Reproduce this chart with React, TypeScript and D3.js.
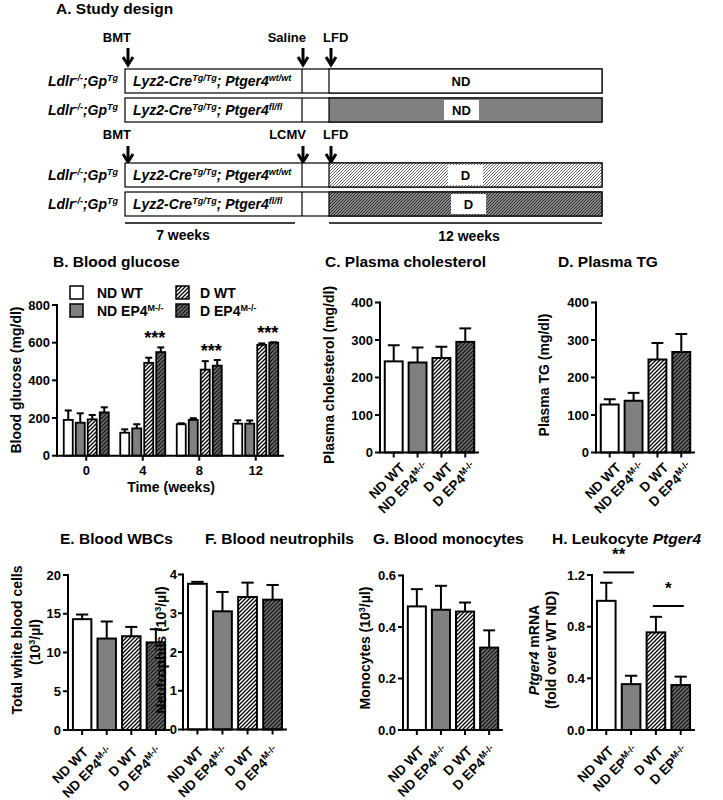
import React from "react";
import * as d3 from "d3";

const FONT = "'Liberation Sans', Arial, Helvetica, sans-serif";

// ---------- data ----------
const groupKeys = ["NDWT", "NDEP4", "DWT", "DEP4"];
const catMain = ["ND WT", "ND EP4", "D WT", "D EP4"];
const catMainH = ["ND WT", "ND EP", "D WT", "D EP"];
const catSup = ["", "M-/-", "", "M-/-"];
const weeks = ["0", "4", "8", "12"];

const glucoseNDWT = [190, 122, 167, 170];
const glucoseNDWTErr = [50, 18, 5, 18];
const glucoseNDEP4 = [175, 145, 190, 170];
const glucoseNDEP4Err = [50, 22, 9, 17];
const glucoseDWT = [193, 493, 457, 588];
const glucoseDWTErr = [23, 27, 45, 8];
const glucoseDEP4 = [230, 550, 478, 600];
const glucoseDEP4Err = [27, 25, 30, 2];
const glucoseSig = ["", "***", "***", "***"];
const glucoseTicks = [0, 200, 400, 600, 800];

const cholMean = [243, 240, 252, 295];
const cholSem = [43, 40, 30, 36];
const tgMean = [128, 138, 248, 268];
const tgSem = [14, 21, 44, 48];
const lipidTicks = [0, 100, 200, 300, 400];

const wbcMean = [14.3, 11.8, 12.1, 11.3];
const wbcSem = [0.6, 2.2, 1.2, 1.7];
const wbcTicks = [0, 5, 10, 15, 20];
const neutMean = [3.76, 3.05, 3.42, 3.35];
const neutSem = [0.05, 0.5, 0.37, 0.38];
const neutTicks = [0, 1, 2, 3, 4];
const monoMean = [0.48, 0.467, 0.46, 0.32];
const monoSem = [0.067, 0.093, 0.035, 0.067];
const monoTicks = [0, 0.2, 0.4, 0.6];
const ptgerMean = [1.0, 0.355, 0.756, 0.348];
const ptgerSem = [0.14, 0.065, 0.12, 0.065];
const ptgerTicks = [0, 0.4, 0.8, 1.2];
const ptgerSigPairs = [[0, 1], [2, 3]];
const ptgerSigLevel = [1.22, 0.96];
const ptgerSigText = ["**", "*"];

const fills = ["#ffffff", "#808080", "url(#hW)", "url(#hD)"];

// ---------- helpers ----------
function Sup({ children, size = 9, up = 5 }: any) {
  return (
    <tspan fontSize={size} dy={-up}>
      {children}
    </tspan>
  );
}

function CatLabel({ x, y, main, sup }: any) {
  return (
    <text
      transform={`translate(${x},${y}) rotate(-45)`}
      textAnchor="end"
      fontSize={13.5}
      fontWeight="bold"
    >
      {main}
      {sup ? <tspan fontSize={9} dy={-5}>{sup}</tspan> : null}
    </text>
  );
}

function YTitle({ x, y, children }: any) {
  return (
    <text
      transform={`translate(${x},${y}) rotate(-90)`}
      textAnchor="middle"
      dy="0.35em"
      fontSize={14}
      fontWeight="bold"
    >
      {children}
    </text>
  );
}

function YAxis({ ax, y, ticks, fmt, top, gap = 7 }: any) {
  return (
    <g>
      <line x1={ax} x2={ax} y1={y(0)} y2={y(top)} stroke="#000" strokeWidth={2} strokeLinecap="square" />
      {ticks.map((t: number) => (
        <g key={t}>
          <line x1={ax - 5} x2={ax} y1={y(t)} y2={y(t)} stroke="#000" strokeWidth={2} />
          <text x={ax - gap} y={y(t)} dy="0.36em" textAnchor="end" fontSize={13} fontWeight="bold">
            {fmt(t)}
          </text>
        </g>
      ))}
    </g>
  );
}

function BarPanel({ ax, ar, y0, y1, max, ticks, fmt, means, sems, mains, ldx, ldy, gap, children }: any) {
  const y = d3.scaleLinear().domain([0, max]).range([y0, y1]);
  const x = d3.scaleBand<string>().domain(groupKeys).range([ax, ar]).paddingInner(0.25).paddingOuter(0.2);
  const bw = x.bandwidth();
  return (
    <g>
      {means.map((m: number, i: number) => {
        const k = groupKeys[i];
        const bx = x(k)!;
        const cx = bx + bw / 2;
        const top = y(m);
        const et = y(m + sems[i]);
        const cw = bw * 0.33;
        return (
          <g key={k}>
            <line x1={cx} x2={cx} y1={top} y2={et} stroke="#000" strokeWidth={2} />
            <line x1={cx - cw} x2={cx + cw} y1={et} y2={et} stroke="#000" strokeWidth={2} />
            <rect x={bx} y={top} width={bw} height={y0 - top} fill={fills[i]} stroke="#000" strokeWidth={2} />
          </g>
        );
      })}
      <YAxis ax={ax} y={y} ticks={ticks} fmt={fmt} top={max} gap={gap} />
      <line x1={ax} x2={ar} y1={y0} y2={y0} stroke="#000" strokeWidth={2} />
      {groupKeys.map((k, i) => {
        const cx = x(k)! + bw / 2;
        return (
          <g key={k}>
            <line x1={cx} x2={cx} y1={y0} y2={y0 + 5} stroke="#000" strokeWidth={2} />
            <CatLabel x={cx + ldx} y={y0 + ldy} main={mains[i]} sup={catSup[i]} />
          </g>
        );
      })}
      {children ? children(x, y) : null}
    </g>
  );
}

function Arrow({ x, y1, y2 }: any) {
  return (
    <g stroke="#000" strokeWidth={3} fill="none">
      <line x1={x} x2={x} y1={y1} y2={y2 - 1} />
      <polyline points={`${x - 5},${y2 - 8} ${x},${y2} ${x + 5},${y2 - 8}`} />
    </g>
  );
}

function StudyRow({ top, fill, sup, diet, dietBox }: any) {
  const h = 24;
  return (
    <g>
      <text x={118} y={top + 17} textAnchor="end" fontSize={14} fontWeight="bold" fontStyle="italic">
        Ldlr<Sup>-/-</Sup>
        <tspan dy={5}>;Gp</tspan>
        <Sup>Tg</Sup>
      </text>
      <rect x={125} y={top} width={477} height={h} fill="#fff" stroke="#000" strokeWidth={1.2} />
      <rect x={329} y={top} width={273} height={h} fill={fill} stroke="#000" strokeWidth={1.2} />
      <line x1={302} x2={302} y1={top} y2={top + h} stroke="#000" strokeWidth={1.2} />
      <text x={133} y={top + 17} fontSize={14} fontWeight="bold" fontStyle="italic">
        Lyz2-Cre<Sup>Tg/Tg</Sup>
        <tspan dy={5}>; Ptger4</tspan>
        <Sup>{sup}</Sup>
      </text>
      {dietBox ? <rect x={dietBox[0]} y={top + 2} width={35} height={h - 4} fill="#fff" /> : null}
      <text x={dietBox ? dietBox[0] + 17.5 : 461} y={top + 17} textAnchor="middle" fontSize={13} fontWeight="bold">
        {diet}
      </text>
    </g>
  );
}

export default function App() {
  // Panel B scales
  const bY = d3.scaleLinear().domain([0, 800]).range([455.7, 305]);
  const bX = d3.scaleBand<string>().domain(weeks).range([58, 284]);
  const bInner = d3.scaleBand<string>().domain(groupKeys).range([0, 45]).paddingInner(0.25);
  const bSeries = [glucoseNDWT, glucoseNDEP4, glucoseDWT, glucoseDEP4];
  const bErr = [glucoseNDWTErr, glucoseNDEP4Err, glucoseDWTErr, glucoseDEP4Err];
  const ibw = bInner.bandwidth();

  const fmt0 = (d: number) => d3.format("d")(d);
  const fmt1 = (d: number) => d3.format(".1f")(d);

  return (
    <svg
      width={723}
      height={800}
      style={{ position: "absolute", left: 0, top: 0, background: "#fff" }}
      fontFamily={FONT}
    >
      <defs>
        <pattern id="hW" patternUnits="userSpaceOnUse" width={4} height={4}>
          <rect width={4} height={4} fill="#fff" />
          <path d="M-1,1 l2,-2 M0,4 l4,-4 M3,5 l2,-2" stroke="#000" strokeWidth={1.3} />
        </pattern>
        <pattern id="hD" patternUnits="userSpaceOnUse" width={4} height={4}>
          <rect width={4} height={4} fill="#707070" />
          <path d="M-1,1 l2,-2 M0,4 l4,-4 M3,5 l2,-2" stroke="#1a1a1a" strokeWidth={1.3} />
        </pattern>
        <pattern id="aW" patternUnits="userSpaceOnUse" width={3} height={3}>
          <rect width={3} height={3} fill="#fff" />
          <path d="M-1,1 l2,-2 M0,3 l3,-3 M2,4 l2,-2" stroke="#555" strokeWidth={0.9} />
        </pattern>
        <pattern id="aD" patternUnits="userSpaceOnUse" width={3} height={3}>
          <rect width={3} height={3} fill="#8a8a8a" />
          <path d="M-1,1 l2,-2 M0,3 l3,-3 M2,4 l2,-2" stroke="#2a2a2a" strokeWidth={1} />
        </pattern>
      </defs>
      <rect width={723} height={800} fill="#fff" />

      {/* ---------- Panel A ---------- */}
      <text x={56} y={14} fontSize={15.5} fontWeight="bold">A. Study design</text>
      <g fontSize={13} fontWeight="bold">
        <text x={131} y={42} textAnchor="end">BMT</text>
        <text x={306} y={42} textAnchor="end">Saline</text>
        <text x={323} y={42}>LFD</text>
        <text x={131} y={139} textAnchor="end">BMT</text>
        <text x={306} y={139} textAnchor="end">LCMV</text>
        <text x={323} y={139}>LFD</text>
      </g>
      <Arrow x={128} y1={48} y2={65} />
      <Arrow x={303} y1={48} y2={65} />
      <Arrow x={331} y1={48} y2={65} />
      <Arrow x={128} y1={146} y2={162} />
      <Arrow x={303} y1={146} y2={162} />
      <Arrow x={331} y1={146} y2={162} />
      <StudyRow top={69} fill="#fff" sup="wt/wt" diet="ND" />
      <StudyRow top={98} fill="#808080" sup="fl/fl" diet="ND" dietBox={[444]} />
      <StudyRow top={163} fill="url(#aW)" sup="wt/wt" diet="D" dietBox={[448]} />
      <StudyRow top={192} fill="url(#aD)" sup="fl/fl" diet="D" dietBox={[451]} />
      <line x1={125} x2={295} y1={223} y2={223} stroke="#000" strokeWidth={1.5} />
      <line x1={329} x2={602} y1={223} y2={223} stroke="#000" strokeWidth={1.5} />
      <text x={183} y={240} textAnchor="middle" fontSize={14} fontWeight="bold">7 weeks</text>
      <text x={469} y={241} textAnchor="middle" fontSize={14} fontWeight="bold">12 weeks</text>

      {/* ---------- Titles ---------- */}
      <g fontSize={15.5} fontWeight="bold">
        <text x={53} y={267}>B. Blood glucose</text>
        <text x={325} y={267}>C. Plasma cholesterol</text>
        <text x={558} y={267}>D. Plasma TG</text>
        <text x={60} y={544}>E. Blood WBCs</text>
        <text x={205} y={544}>F. Blood neutrophils</text>
        <text x={373} y={544}>G. Blood monocytes</text>
        <text x={552} y={544}>
          H. Leukocyte <tspan fontStyle="italic">Ptger4</tspan>
        </text>
      </g>

      {/* ---------- Panel B ---------- */}
      <g>
        {[0, 1, 2, 3].map((gi) => (
          <rect key={gi} x={gi < 2 ? 70 : 176} y={gi % 2 === 0 ? 286 : 304} width={13} height={13}
            fill={fills[gi]} stroke="#000" strokeWidth={1.5} />
        ))}
        <g fontSize={14} fontWeight="bold">
          <text x={97} y={298}>ND WT</text>
          <text x={97} y={316}>ND EP4<Sup>M-/-</Sup></text>
          <text x={200} y={298}>D WT</text>
          <text x={200} y={316}>D EP4<Sup>M-/-</Sup></text>
        </g>
        {weeks.map((w, wi) => {
          const gx = bX(w)! + bX.bandwidth() / 2 - 22.5;
          return (
            <g key={w}>
              {groupKeys.map((k, si) => {
                const bx = gx + bInner(k)!;
                const cx = bx + ibw / 2;
                const v = bSeries[si][wi];
                const e = bErr[si][wi];
                return (
                  <g key={k}>
                    <line x1={cx} x2={cx} y1={bY(v)} y2={bY(v + e)} stroke="#000" strokeWidth={2} />
                    <line x1={cx - 3.5} x2={cx + 3.5} y1={bY(v + e)} y2={bY(v + e)} stroke="#000" strokeWidth={2} />
                    <rect x={bx} y={bY(v)} width={ibw} height={bY(0) - bY(v)} fill={fills[si]} stroke="#000" strokeWidth={1.8} />
                  </g>
                );
              })}
              {glucoseSig[wi] ? (
                <text
                  x={gx + bInner("DWT")! + (bInner("DEP4")! + ibw - bInner("DWT")!) / 2}
                  y={bY(Math.max(glucoseDWT[wi] + glucoseDWTErr[wi], glucoseDEP4[wi] + glucoseDEP4Err[wi])) - 3}
                  textAnchor="middle" fontSize={18} fontWeight="bold"
                >
                  {glucoseSig[wi]}
                </text>
              ) : null}
            </g>
          );
        })}
        <YAxis ax={57} y={bY} ticks={glucoseTicks} fmt={fmt0} top={800} />
        <line x1={57} x2={284} y1={bY(0)} y2={bY(0)} stroke="#000" strokeWidth={2} />
        {weeks.map((w) => {
          const cx = bX(w)! + bX.bandwidth() / 2;
          return (
            <g key={w}>
              <line x1={cx} x2={cx} y1={bY(0)} y2={bY(0) + 5} stroke="#000" strokeWidth={2} />
              <text x={cx} y={bY(0) + 19.5} textAnchor="middle" fontSize={13} fontWeight="bold">{w}</text>
            </g>
          );
        })}
        <text x={171} y={492} textAnchor="middle" fontSize={14} fontWeight="bold">Time (weeks)</text>
        <YTitle x={16} y={380}>Blood glucose (mg/dl)</YTitle>
      </g>

      {/* ---------- Panel C ---------- */}
      <BarPanel ax={380} ar={479} y0={452.5} y1={302.5} max={400} ticks={lipidTicks} fmt={fmt0}
        means={cholMean} sems={cholSem} mains={catMain} ldx={12} ldy={16} />
      <YTitle x={329} y={375}>Plasma cholesterol (mg/dl)</YTitle>

      {/* ---------- Panel D ---------- */}
      <BarPanel ax={596} ar={695} y0={452.5} y1={302.5} max={400} ticks={lipidTicks} fmt={fmt0}
        means={tgMean} sems={tgSem} mains={catMain} ldx={12} ldy={16} />
      <YTitle x={544} y={375}>Plasma TG (mg/dl)</YTitle>

      {/* ---------- Panel E ---------- */}
      <BarPanel ax={68} ar={170} y0={730} y1={575} max={20} ticks={wbcTicks} fmt={fmt0}
        means={wbcMean} sems={wbcSem} mains={catMain} ldx={7} ldy={23} />
      <YTitle x={17} y={640}>Total white blood cells</YTitle>
      <YTitle x={35} y={642}>(10<tspan fontSize={9} dy={-5}>3</tspan><tspan dy={5}>/µl)</tspan></YTitle>

      {/* ---------- Panel F ---------- */}
      <BarPanel ax={183} ar={287} y0={729.5} y1={574.5} max={4} ticks={neutTicks} fmt={fmt0}
        means={neutMean} sems={neutSem} mains={catMain} ldx={7} ldy={23} gap={6} />
      <YTitle x={161} y={650}>Neutrophils (10<tspan fontSize={9} dy={-5}>3</tspan><tspan dy={5}>/µl)</tspan></YTitle>

      {/* ---------- Panel G ---------- */}
      <BarPanel ax={403} ar={503} y0={730} y1={575.5} max={0.6} ticks={monoTicks} fmt={fmt1}
        means={monoMean} sems={monoSem} mains={catMain} ldx={8} ldy={22} />
      <YTitle x={365} y={648}>Monocytes (10<tspan fontSize={9} dy={-5}>3</tspan><tspan dy={5}>/µl)</tspan></YTitle>

      {/* ---------- Panel H ---------- */}
      <BarPanel ax={592} ar={695} y0={730} y1={575} max={1.2} ticks={ptgerTicks} fmt={fmt1}
        means={ptgerMean} sems={ptgerSem} mains={catMainH} ldx={8} ldy={22}>
        {(x: any, y: any) =>
          ptgerSigPairs.map((p, i) => {
            const a = x(groupKeys[p[0]]) + x.bandwidth() / 2;
            const b = x(groupKeys[p[1]]) + x.bandwidth() / 2;
            const ly = y(ptgerSigLevel[i]);
            return (
              <g key={i}>
                <line x1={a - 3} x2={b + 3} y1={ly} y2={ly} stroke="#000" strokeWidth={2} />
                <text x={(a + b) / 2} y={ly - 12} textAnchor="middle" fontSize={17} fontWeight="bold">
                  {ptgerSigText[i]}
                </text>
              </g>
            );
          })
        }
      </BarPanel>
      <YTitle x={534} y={650}><tspan fontStyle="italic">Ptger4</tspan> mRNA</YTitle>
      <YTitle x={551} y={650}>(fold over WT ND)</YTitle>
    </svg>
  );
}
